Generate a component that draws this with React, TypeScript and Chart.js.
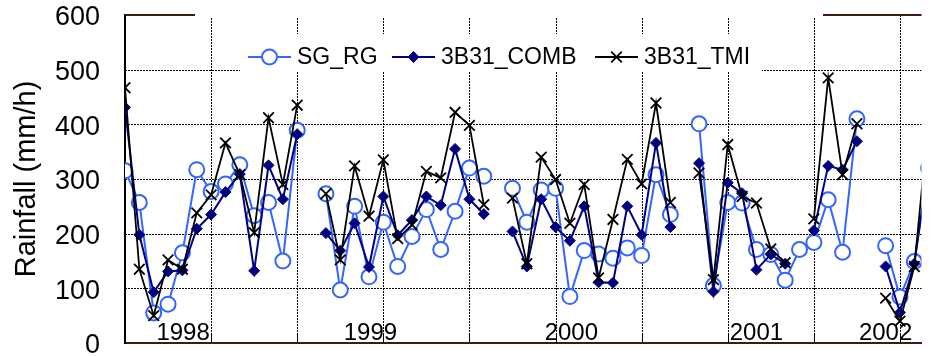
import React, { useEffect, useRef } from 'react';
import { Chart, registerables } from 'chart.js';

Chart.register(...registerables);

const FONT = '"Liberation Sans", Arial, Helvetica, sans-serif';

// ---- categories ----
const years: string[] = ['1998', '1999', '2000', '2001', '2002'];
const monthNames: string[] = ['Jan', 'Feb', 'Mar', 'Apr', 'May', 'Jun', 'Jul', 'Aug', 'Sep', 'Oct', 'Nov', 'Dec'];
const allMonths: string[] = [];
for (const y of years) for (const m of monthNames) allMonths.push(`${m} ${y}`);
const categories: string[] = allMonths.slice(0, 57); // Jan 1998 .. Sep 2002

// ---- series values (mm/h) ----
const sgRg: (number | null)[] = [
  315, 257, 55, 71, 165, 317, 277, 291, 326, 233, 257, 150,
  389, null, 273, 97, 250, 121, 221, 140, 195, 244, 171, 241,
  320, 305, null, 283, 221, 280, 283, 85, 169, 163, 155, 174,
  160, 308, 235, null, 401, 105, 257, 256, 171, 162, 115, 171,
  184, 262, 166, 410, null, 178, 84, 149, 320,
];
const comb: (number | null)[] = [
  431, 198, 93, 131, 133, 209, 235, 276, 309, 132, 325, 263,
  382, null, 201, 169, 219, 139, 268, 197, 225, 268, 252, 355,
  263, 236, null, 204, 140, 263, 212, 187, 250, 111, 110, 250,
  198, 366, 212, null, 329, 94, 293, 274, 134, 162, 145, null,
  206, 324, 317, 369, null, 140, 56, 145, 330,
];
const tmi: (number | null)[] = [
  467, 135, 50, 152, 135, 238, 271, 366, 308, 202, 412, 290,
  435, null, 273, 152, 324, 232, 335, 191, 216, 314, 302, 422,
  398, 253, null, 265, 145, 340, 299, 219, 290, 119, 226, 336,
  291, 439, 257, null, 311, 116, 363, 268, 256, 172, 147, null,
  227, 485, 308, 401, null, 82, 40, 140, 410,
];

// ---- axis / annotation labels ----
const yTickValues: number[] = [0, 100, 200, 300, 400, 500, 600];
const yearLabels: string[] = ['1998', '1999', '2000', '2001', '2002'];
const yearLabelAt: number[] = [4.05, 17.1, 31.1, 44.0, 53.0]; // in month-index units
const seriesNames: string[] = ['SG_RG', '3B31_COMB', '3B31_TMI'];

const SG_COLOR = '#3366FF';
const COMB_COLOR = '#000080';
const TMI_COLOR = '#000000';
const FRAME_COLOR = '#3b1c12';

function toPoints(arr: (number | null)[]) {
  return categories.map((_, i) => ({ x: i, y: arr[i] }));
}

function drawMarker(ctx: CanvasRenderingContext2D, style: string, x: number, y: number, r: number, color: string, fill: string, lw: number) {
  ctx.save();
  ctx.strokeStyle = color;
  ctx.fillStyle = fill;
  ctx.lineWidth = lw;
  ctx.beginPath();
  if (style === 'circle') {
    ctx.arc(x, y, r, 0, Math.PI * 2);
    ctx.fill();
    ctx.stroke();
  } else if (style === 'rectRot') {
    ctx.moveTo(x - r, y);
    ctx.lineTo(x, y - r);
    ctx.lineTo(x + r, y);
    ctx.lineTo(x, y + r);
    ctx.closePath();
    ctx.fill();
    ctx.stroke();
  } else {
    const d = r * Math.SQRT1_2;
    ctx.moveTo(x - d, y - d);
    ctx.lineTo(x + d, y + d);
    ctx.moveTo(x + d, y - d);
    ctx.lineTo(x - d, y + d);
    ctx.stroke();
  }
  ctx.restore();
}

const legendStarts = [248, 392, 595];

const decorPlugin = {
  id: 'decor',
  beforeDraw(chart: any) {
    const { ctx, chartArea, scales } = chart;
    const xs = scales.x;
    ctx.save();
    ctx.font = `24px ${FONT}`;
    ctx.fillStyle = '#000';
    ctx.textAlign = 'center';
    ctx.textBaseline = 'alphabetic';
    yearLabels.forEach((t, i) => {
      ctx.fillText(t, xs.getPixelForValue(yearLabelAt[i]), chartArea.bottom - 3);
    });
    ctx.restore();
  },
  beforeDatasetsDraw(chart: any) {
    const { ctx, chartArea, scales } = chart;
    const xs = scales.x;
    const ys = scales.y;
    ctx.save();
    ctx.strokeStyle = '#000';
    ctx.lineWidth = 1;
    ctx.setLineDash([2, 1]);
    ys.ticks.forEach((t: any) => {
      if (t.value === 0 || t.value === 600) return;
      const py = Math.round(ys.getPixelForValue(t.value)) + 0.5;
      ctx.beginPath();
      ctx.moveTo(chartArea.left, py);
      ctx.lineTo(chartArea.right, py);
      ctx.stroke();
    });
    xs.ticks.forEach((t: any) => {
      if (t.value === 0) return;
      const px = Math.round(xs.getPixelForValue(t.value)) + 0.5;
      ctx.beginPath();
      ctx.moveTo(px, chartArea.top);
      ctx.lineTo(px, chartArea.bottom);
      ctx.stroke();
    });
    // short solid inner tick marks along the bottom axis
    ctx.setLineDash([]);
    xs.ticks.forEach((t: any) => {
      if (t.value === 0) return;
      const px = Math.round(xs.getPixelForValue(t.value)) + 0.5;
      ctx.beginPath();
      ctx.moveTo(px, chartArea.bottom - 10);
      ctx.lineTo(px, chartArea.bottom);
      ctx.stroke();
    });
    ctx.restore();
  },
  afterDraw(chart: any) {
    const { ctx, chartArea } = chart;
    ctx.save();
    // top frame line
    ctx.strokeStyle = FRAME_COLOR;
    ctx.lineWidth = 2;
    ctx.beginPath();
    ctx.moveTo(chartArea.left, chartArea.top);
    ctx.lineTo(chartArea.right, chartArea.top);
    ctx.stroke();
    // title background box (title text lies outside the picture)
    ctx.fillStyle = '#ffffff';
    ctx.fillRect(195, 0, 628, 17.5);
    // legend box
    ctx.fillRect(240, 34, 522, 38);
    const ly = 57;
    chart.data.datasets.forEach((ds: any, i: number) => {
      const x0 = legendStarts[i];
      ctx.strokeStyle = ds.borderColor;
      ctx.lineWidth = ds.borderWidth;
      ctx.beginPath();
      ctx.moveTo(x0, ly);
      ctx.lineTo(x0 + 43, ly);
      ctx.stroke();
      drawMarker(ctx, ds.pointStyle, x0 + 21.5, ly, ds.pointRadius, ds.borderColor, ds.pointBackgroundColor, ds.pointBorderWidth);
      ctx.fillStyle = '#000';
      ctx.font = `23px ${FONT}`;
      ctx.textAlign = 'left';
      ctx.textBaseline = 'middle';
      ctx.fillText(ds.label, x0 + 49, ly + 1);
    });
    ctx.restore();
  },
};

export default function App() {
  const ref = useRef<HTMLCanvasElement | null>(null);

  useEffect(() => {
    if (!ref.current) return;
    const chart = new Chart(ref.current, {
      type: 'line',
      data: {
        labels: categories,
        datasets: [
          {
            label: seriesNames[0],
            data: toPoints(sgRg),
            borderColor: SG_COLOR,
            backgroundColor: SG_COLOR,
            borderWidth: 2,
            pointStyle: 'circle',
            pointRadius: 7.5,
            pointBorderWidth: 2,
            pointBackgroundColor: '#ffffff',
            pointBorderColor: SG_COLOR,
            tension: 0,
            spanGaps: false,
            order: 3,
          },
          {
            label: seriesNames[1],
            data: toPoints(comb),
            borderColor: COMB_COLOR,
            backgroundColor: COMB_COLOR,
            borderWidth: 2,
            pointStyle: 'rectRot',
            pointRadius: 5.5,
            pointBorderWidth: 1,
            pointBackgroundColor: COMB_COLOR,
            pointBorderColor: COMB_COLOR,
            tension: 0,
            spanGaps: false,
            order: 2,
          },
          {
            label: seriesNames[2],
            data: toPoints(tmi),
            borderColor: TMI_COLOR,
            backgroundColor: TMI_COLOR,
            borderWidth: 1.8,
            pointStyle: 'crossRot',
            pointRadius: 7.5,
            pointBorderWidth: 1.8,
            pointBackgroundColor: TMI_COLOR,
            pointBorderColor: TMI_COLOR,
            tension: 0,
            spanGaps: false,
            order: 1,
          },
        ] as any,
      },
      options: {
        responsive: false,
        devicePixelRatio: 1,
        animation: false,
        layout: { padding: { left: 0, top: 15, right: 0, bottom: 13 } },
        plugins: {
          legend: { display: false },
          tooltip: { enabled: false },
          title: { display: false },
        },
        scales: {
          x: {
            type: 'linear',
            min: 0,
            max: 55.5,
            ticks: { display: false, stepSize: 6, includeBounds: false } as any,
            grid: { display: false, drawTicks: false },
            border: { display: true, color: FRAME_COLOR, width: 2 },
            afterFit: (axis: any) => {
              axis.height = 0;
              axis.paddingLeft = 0;
              axis.paddingRight = 0;
            },
          },
          y: {
            type: 'linear',
            min: 0,
            max: 600,
            afterBuildTicks: (axis: any) => {
              axis.ticks = yTickValues.map((v) => ({ value: v }));
            },
            afterFit: (axis: any) => {
              axis.width = 125;
              axis.paddingTop = 0;
              axis.paddingBottom = 0;
            },
            ticks: {
              padding: 25,
              labelOffset: 3,
              color: '#000',
              font: { size: 27, family: FONT },
            },
            grid: { display: false, drawTicks: false },
            border: { display: true, color: '#000', width: 2 },
            title: {
              display: true,
              text: 'Rainfall (mm/h)',
              color: '#000',
              font: { size: 29, family: FONT },
              padding: { top: 9.6, bottom: 4 },
            },
          },
        },
      },
      plugins: [decorPlugin],
    });
    return () => chart.destroy();
  }, []);

  return (
    <div style={{ position: 'absolute', left: 0, top: 0, width: 931, height: 356, background: '#fff' }}>
      <canvas ref={ref} width={931} height={356} style={{ display: 'block' }} />
    </div>
  );
}
